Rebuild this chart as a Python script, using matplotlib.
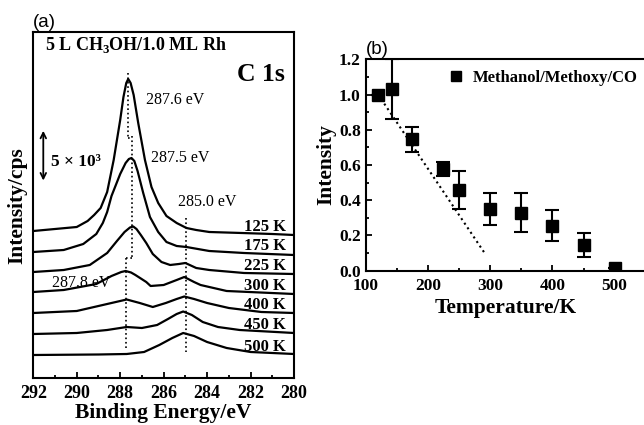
import matplotlib
matplotlib.use("Agg")
import matplotlib.pyplot as plt
from matplotlib.lines import Line2D

plt.rcParams['font.family'] = ['Liberation Serif', 'DejaVu Serif']
plt.rcParams['mathtext.fontset'] = 'custom'
plt.rcParams['mathtext.rm'] = 'Liberation Serif'
plt.rcParams['mathtext.bf'] = 'Liberation Serif:bold'

# ---- panel (a): C 1s spectra, offset stacked (y in arbitrary offset units) ----
temps = ['125 K', '175 K', '225 K', '300 K', '400 K', '450 K', '500 K']
label_y = [151, 132, 112, 92, 73, 53, 31]

e_125 = [292, 291, 290, 289.5, 289.2, 288.9, 288.6, 288.3, 288.0, 287.85, 287.72, 287.63, 287.52,
         287.38, 287.17, 286.86, 286.56, 286.25, 285.87, 285.4, 284.95, 284.5, 283.9, 282.4, 281, 280]
y_125 = [147, 149, 151, 157, 163, 170, 186, 218, 258, 281, 295, 299, 295,
         283, 255, 218, 191, 175, 162, 155, 150, 148, 146, 145, 144, 143]
e_175 = [292, 290.6, 289.7, 289.1, 288.8, 288.6, 288.4, 288.0, 287.75, 287.6, 287.48, 287.35,
         287.2, 286.94, 286.63, 286.25, 285.87, 285.4, 284.95, 283.9, 282.3, 280]
y_175 = [126, 128, 134, 144, 155, 166, 182, 204, 215, 219, 220, 217,
         207, 185, 161, 146, 136, 132, 131, 127, 125, 123]
e_225 = [292, 290.6, 289.4, 288.6, 288.15, 287.8, 287.55, 287.4, 287.25, 287.05, 286.8, 286.5,
         286.1, 285.7, 285.3, 285.0, 284.5, 283.9, 282.3, 280]
y_225 = [106, 108, 113, 125, 137, 146, 150.5, 151.5, 149, 143, 135, 124,
         116, 113, 114, 115, 110, 108, 105, 104]
e_300 = [292, 290.6, 289.1, 288.4, 287.95, 287.75, 287.5, 287.3, 286.8, 286.6, 286.0, 285.4,
         285.05, 284.6, 284.3, 283.1, 280]
y_300 = [86, 88, 94, 102, 106, 107, 105.5, 103, 96, 92, 93, 98, 101, 96, 93, 87, 84]
e_400 = [292, 290, 288.6, 287.7, 287.1, 286.5, 285.9, 285.4, 285.05, 284.6, 284.0, 283.0, 281.5, 280]
y_400 = [65, 67, 74, 78.5, 75, 71, 75, 79, 81.5, 79, 75, 70, 66, 65]
e_450 = [292, 290, 288.6, 287.7, 287.0, 286.3, 285.8, 285.4, 285.1, 284.7, 284.2, 283.5, 282.5, 280]
y_450 = [44, 45, 48, 51, 50, 53, 59, 64, 66.5, 63, 56, 51, 48, 45]
e_500 = [292, 289, 287.7, 286.9, 286.2, 285.6, 285.1, 284.6, 284.0, 283.1, 282.0, 280]
y_500 = [23, 23.5, 24, 26, 33, 40, 45, 42, 36, 30, 26, 24]

# dotted peak markers (energy, y from, y to)
dot_e = [287.63, 287.44, 287.71]
dot_y = [(305, 240), (242, 120), (120, 28)]
co_e = 284.97
co_y = (160, 26)

# ---- panel (b): intensity vs temperature ----
T = [120, 142, 175, 225, 250, 300, 350, 400, 450, 500]
I = [1.00, 1.03, 0.745, 0.576, 0.458, 0.35, 0.33, 0.256, 0.146, 0.013]
err = [0.0, 0.17, 0.07, 0.04, 0.11, 0.09, 0.11, 0.09, 0.07, 0.0]
fit_T = [120, 293]
fit_I = [1.0, 0.09]

fig = plt.figure(figsize=(6.44, 4.25), dpi=100)

ax = fig.add_axes([0.0517, 0.1106, 0.4048, 0.8134])
for e, y in [(e_125, y_125), (e_175, y_175), (e_225, y_225), (e_300, y_300),
             (e_400, y_400), (e_450, y_450), (e_500, y_500)]:
    ax.plot(e, y, color='black', lw=1.6)
for t, ly in zip(temps, label_y):
    ax.text(280.38, ly, t, ha='right', va='center', fontsize=12, fontweight='bold')

ax.plot([dot_e[0]] * 2, dot_y[0], 'k:', lw=1.2)
ax.plot([dot_e[0], dot_e[1]], [dot_y[0][1], dot_y[0][1]], 'k:', lw=1.2)
ax.plot([dot_e[1]] * 2, dot_y[1], 'k:', lw=1.2)
ax.plot([dot_e[1], dot_e[2]], [dot_y[1][1], dot_y[1][1]], 'k:', lw=1.2)
ax.plot([dot_e[2]] * 2, dot_y[2], 'k:', lw=1.2)
ax.plot([co_e, co_e], co_y, 'k:', lw=1.2)

ax.text(286.79, 278, '287.6 eV', fontsize=11.5, va='center')
ax.text(286.56, 219.7, '287.5 eV', fontsize=11.5, va='center')
ax.text(285.33, 176.3, '285.0 eV', fontsize=11.5, va='center')
ax.text(291.15, 94.7, '287.8 eV', fontsize=11.5, va='center')
ax.text(291.46, 333, r'5 L CH$_\mathbf{3}$OH/1.0 ML Rh', fontsize=13, fontweight='bold', va='center')
ax.text(280.43, 303, 'C 1s', fontsize=18.5, fontweight='bold', ha='right', va='center')
ax.text(291.2, 216.3, '5 \u00d7 10\u00b3', fontsize=12.5, fontweight='bold', va='center')
ax.annotate('', xy=(291.54, 250), xytext=(291.54, 194.7),
            arrowprops=dict(arrowstyle='<->', color='black', lw=1.3))

ax.set_xlim(292, 280)
ax.set_ylim(0, 345.7)
ax.set_xticks(range(292, 279, -2))
ax.set_xticks(range(291, 280, -2), minor=True)
ax.set_yticks([])
ax.tick_params(axis='x', which='both', direction='in', width=1.3, labelsize=13, pad=5)
ax.tick_params(axis='x', which='major', length=4)
ax.tick_params(axis='x', which='minor', length=2.5)
for lab in ax.get_xticklabels():
    lab.set_fontweight('bold')
for s in ax.spines.values():
    s.set_linewidth(1.5)
ax.set_xlabel('Binding Energy/eV', fontsize=15.5, fontweight='bold', labelpad=1)
ax.set_ylabel('Intensity/cps', fontsize=15.5, fontweight='bold', labelpad=4)
ax.text(0.0, 1.005, '(a)', transform=ax.transAxes, family='Liberation Sans',
        fontsize=13.5, va='bottom', ha='left')

bx = fig.add_axes([0.5678, 0.3631, 0.435, 0.4974])
bx.plot(fit_T, fit_I, 'k:', lw=1.5)
bx.errorbar(T, I, yerr=err, fmt='s', color='black', ms=8.5, capsize=5,
            elinewidth=1.5, capthick=1.5, clip_on=True)
h = Line2D([], [], marker='s', color='black', ls='none', ms=7)
bx.legend([h], ['Methanol/Methoxy/CO'], loc='center left', bbox_to_anchor=(0.245, 0.913),
          frameon=False, handlelength=0.8, handletextpad=0.6,
          prop={'family': 'Liberation Serif', 'weight': 'bold', 'size': 12})
bx.set_xlim(100, 550)
bx.set_ylim(0, 1.2)
bx.set_xticks([100, 200, 300, 400, 500])
bx.set_xticks([150, 250, 350, 450], minor=True)
bx.set_yticks([0.0, 0.2, 0.4, 0.6, 0.8, 1.0, 1.2])
bx.set_yticks([0.1, 0.3, 0.5, 0.7, 0.9, 1.1], minor=True)
bx.set_yticklabels(['0.0', '0.2', '0.4', '0.6', '0.8', '1.0', '1.2'])
bx.tick_params(which='both', direction='in', width=1.3, labelsize=12.5)
bx.tick_params(axis='x', which='both', pad=5)
bx.tick_params(which='major', length=4)
bx.tick_params(which='minor', length=2.5)
for lab in bx.get_xticklabels() + bx.get_yticklabels():
    lab.set_fontweight('bold')
for s in bx.spines.values():
    s.set_linewidth(1.5)
bx.set_xlabel('Temperature/K', fontsize=15.5, fontweight='bold', labelpad=3)
bx.set_ylabel('Intensity', fontsize=15.5, fontweight='bold', labelpad=2)
bx.text(0.0, 1.005, '(b)', transform=bx.transAxes, family='Liberation Sans',
        fontsize=13.5, va='bottom', ha='left')

fig.savefig('out.png', dpi=100)
